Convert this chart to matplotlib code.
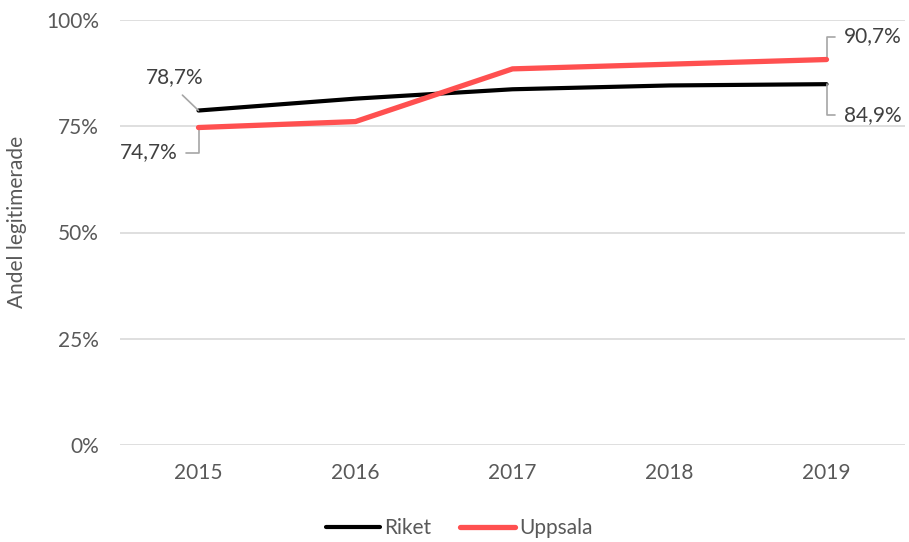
import matplotlib
matplotlib.use("Agg")
import matplotlib.pyplot as plt
from matplotlib.ticker import FuncFormatter

years = ["2015", "2016", "2017", "2018", "2019"]
riket = [78.7, 81.5, 83.7, 84.6, 84.9]
uppsala = [74.7, 76.1, 88.5, 89.6, 90.7]
yticks = [0, 25, 50, 75, 100]

plt.rcParams['font.family'] = ['Lato', 'DejaVu Sans']
TXT = '#595959'
DARK = '#404040'
RED = '#FF5050'
FS = 15

W, H = 909, 542
fig = plt.figure(figsize=(W / 100, H / 100), dpi=100)
ax = fig.add_axes([120 / W, (H - 445) / H, 785 / W, 425 / H])

x = list(range(len(years)))
ax.plot(x, riket, color='black', lw=3.0, solid_capstyle='round', zorder=3, label='Riket')
ax.plot(x, uppsala, color=RED, lw=3.8, solid_capstyle='round', zorder=4, label='Uppsala')

ax.set_xlim(-0.5, len(years) - 0.5)
ax.set_ylim(0, 100)
ax.set_yticks(yticks)
ax.yaxis.set_major_formatter(FuncFormatter(lambda v, p: f"{int(v)}%"))
ax.set_xticks(x)
ax.set_xticklabels(years)
ax.grid(axis='y', color='#D9D9D9', lw=1.2)
ax.set_axisbelow(True)
for s in ax.spines.values():
    s.set_visible(False)
ax.tick_params(axis='both', length=0, labelsize=FS, labelcolor=TXT)
ax.tick_params(axis='y', pad=15)
ax.tick_params(axis='x', pad=13)
ax.set_ylabel('Andel legitimerade', fontsize=FS, color=TXT)
ax.yaxis.set_label_coords(-0.118, 0.525)

def fmt(v):
    return f"{v:.1f}%".replace('.', ',')

lc = '#A6A6A6'
ax.annotate(fmt(riket[0]), xy=(0, riket[0]), xytext=(-24, 33), textcoords='offset pixels',
            ha='center', va='center', fontsize=FS, color=DARK,
            arrowprops=dict(arrowstyle='-', color=lc, lw=1.2, relpos=(0.5, 0), shrinkA=5, shrinkB=0))
ax.annotate(fmt(uppsala[0]), xy=(0, uppsala[0]), xytext=(-50, -25), textcoords='offset pixels',
            ha='center', va='center', fontsize=FS, color=DARK,
            arrowprops=dict(arrowstyle='-', color=lc, lw=1.2, relpos=(1, 0.5), shrinkA=4, shrinkB=0,
                            connectionstyle='angle,angleA=0,angleB=90,rad=0'))
ax.annotate(fmt(uppsala[-1]), xy=(4, uppsala[-1]), xytext=(46, 23), textcoords='offset pixels',
            ha='center', va='center', fontsize=FS, color=DARK,
            arrowprops=dict(arrowstyle='-', color=lc, lw=1.2, relpos=(0, 0.5), shrinkA=4, shrinkB=0,
                            connectionstyle='angle,angleA=0,angleB=90,rad=0'))
ax.annotate(fmt(riket[-1]), xy=(4, riket[-1]), xytext=(46, -31), textcoords='offset pixels',
            ha='center', va='center', fontsize=FS, color=DARK,
            arrowprops=dict(arrowstyle='-', color=lc, lw=1.2, relpos=(0, 0.5), shrinkA=4, shrinkB=0,
                            connectionstyle='angle,angleA=0,angleB=90,rad=0'))

leg = fig.legend(loc='center', bbox_to_anchor=(0.505, (H - 528) / H), ncol=2, frameon=False,
                 fontsize=FS, handlelength=2.6, handletextpad=0.2, columnspacing=1.4)
for t in leg.get_texts():
    t.set_color(TXT)

fig.savefig('out.png', dpi=100)
